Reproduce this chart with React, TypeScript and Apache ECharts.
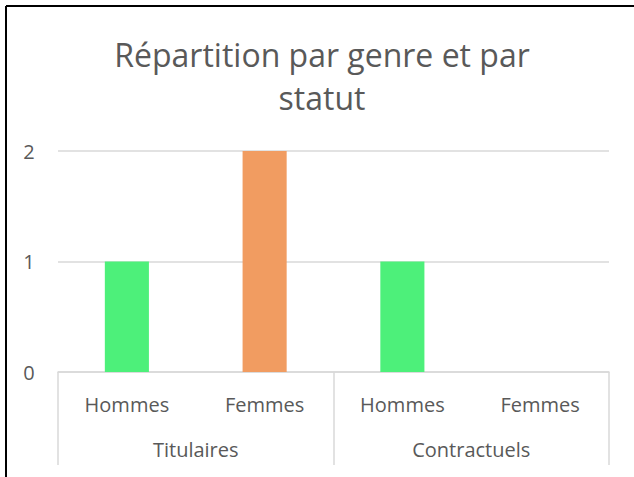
import React, { useEffect, useRef } from "react";
import * as echarts from "echarts";

const titleText = "Répartition par genre et par\nstatut";
const categories = ["Hommes", "Femmes", "Hommes", "Femmes"];
const groups = ["Titulaires", "Contractuels"];
const values = [1, 2, 1, 0];
const barColors = ["#4df07a", "#f19c61", "#4df07a", "#f19c61"];
const yTicks = { min: 0, max: 2, interval: 1 };

const FONT = "'Open Sans', 'Noto Sans', sans-serif";
const TEXT = "#595959";
const LINE = "#d9d9d9";

export default function App() {
  const ref = useRef<HTMLDivElement>(null);
  useEffect(() => {
    if (!ref.current) return;
    const chart = echarts.init(ref.current, undefined, { renderer: "svg" });
    chart.setOption({
      animation: false,
      backgroundColor: "#ffffff",
      grid: { left: 58, right: 25, top: 151, bottom: 105, containLabel: false },
      xAxis: [
        {
          type: "category",
          data: categories,
          position: "bottom",
          axisLine: { show: true, lineStyle: { color: LINE, width: 1.5 } },
          axisTick: { show: false },
          axisLabel: { margin: 22, fontSize: 20, color: TEXT, fontFamily: FONT },
        },
        {
          type: "category",
          data: groups,
          position: "bottom",
          axisLine: { show: false },
          axisTick: { show: true, length: 93, lineStyle: { color: LINE, width: 1.5 } },
          axisLabel: { margin: 67, fontSize: 20, color: TEXT, fontFamily: FONT },
          splitLine: { show: false },
        },
      ],
      yAxis: {
        type: "value",
        min: yTicks.min,
        max: yTicks.max,
        interval: yTicks.interval,
        axisLine: { show: false },
        axisTick: { show: false },
        splitLine: { show: true, lineStyle: { color: LINE, width: 1.5 } },
        axisLabel: { margin: 29, align: "center", fontSize: 20, color: TEXT, fontFamily: FONT },
      },
      series: [
        {
          type: "bar",
          xAxisIndex: 0,
          barWidth: "32%",
          data: values.map((v, i) => ({ value: v, itemStyle: { color: barColors[i] } })),
        },
      ],
      graphic: [
        {
          type: "line",
          shape: { x1: 6, y1: 6, x2: 634, y2: 6 },
          style: { stroke: "#000", lineWidth: 2 },
        },
        {
          type: "line",
          shape: { x1: 6, y1: 6, x2: 6, y2: 477 },
          style: { stroke: "#000", lineWidth: 2 },
        },
        {
          type: "text",
          x: 322,
          y: 33,
          style: {
            text: titleText,
            fontSize: 32,
            fontFamily: FONT,
            fill: TEXT,
            align: "center",
            verticalAlign: "top",
            lineHeight: 43,
          },
        },
      ],
    });
    return () => chart.dispose();
  }, []);
  return (
    <div
      ref={ref}
      style={{ position: "fixed", left: 0, top: 0, width: 634, height: 477 }}
    />
  );
}
